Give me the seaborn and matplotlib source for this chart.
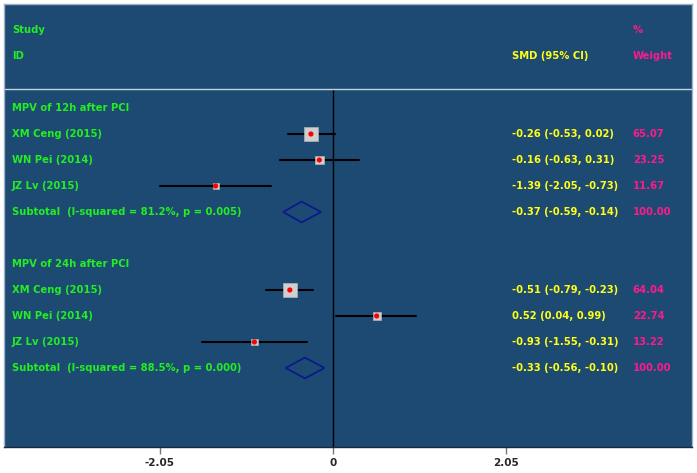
import numpy as np
import pandas as pd
import matplotlib.pyplot as plt
import matplotlib.transforms as mtransforms
from matplotlib.patches import Polygon
import seaborn as sns

# Study data
groups = ['MPV of 12h after PCI', 'MPV of 24h after PCI']
studies = ['XM Ceng (2015)', 'WN Pei (2014)', 'JZ Lv (2015)']
smd_12h = [-0.26, -0.16, -1.39]
lo_12h = [-0.53, -0.63, -2.05]
hi_12h = [0.02, 0.31, -0.73]
wt_12h = [65.07, 23.25, 11.67]
smd_24h = [-0.51, 0.52, -0.93]
lo_24h = [-0.79, 0.04, -1.55]
hi_24h = [-0.23, 0.99, -0.31]
wt_24h = [64.04, 22.74, 13.22]
sub_smd = [-0.37, -0.33]
sub_lo = [-0.59, -0.56]
sub_hi = [-0.14, -0.10]
sub_label = ['Subtotal  (I-squared = 81.2%, p = 0.005)',
             'Subtotal  (I-squared = 88.5%, p = 0.000)']
xticks = [-2.05, 0, 2.05]

sns.set_style('white')
plt.rcParams['font.family'] = ['DejaVu Sans']

BG = '#1d4a72'
GREEN = '#22ee22'
YELLOW = '#ffff1a'
PINK = '#ff1a8c'

rows = []
for g, (smd, lo, hi, wt) in enumerate([(smd_12h, lo_12h, hi_12h, wt_12h),
                                        (smd_24h, lo_24h, hi_24h, wt_24h)]):
    start = 5 + g * 6
    for i in range(3):
        rows.append(dict(study=studies[i], row=start + i, smd=smd[i],
                         lo=lo[i], hi=hi[i], wt=wt[i]))
df = pd.DataFrame(rows)

fig = plt.figure(figsize=(6.97, 4.73), dpi=100)
ax = fig.add_axes([4 / 697, 1 - 447 / 473, 688 / 697, 443 / 473])
ax.set_facecolor(BG)
ax.set_xlim(-3.90, 4.26)
ax.set_ylim(17.04, 0)

# header separator and null line
ax.axhline(3.27, color='#c8d2dc', lw=1.0)
ax.plot([0, 0], [3.27, 17.04], color='black', lw=1, zorder=1)

# confidence intervals
for _, r in df.iterrows():
    ax.plot([r['lo'], r['hi']], [r['row'], r['row']], color='black', lw=1.5, zorder=2)

# weight squares
df['size'] = (14 * np.sqrt(df['wt'] / 65.07) * 0.72) ** 2
ax.scatter(df['smd'], df['row'], s=df['size'], marker='s', color='#cfcfcf',
           edgecolor='#b0b0b0', linewidth=0.5, zorder=3)
sns.scatterplot(data=df, x='smd', y='row', color='#ff0000', s=14,
                edgecolor='none', ax=ax, zorder=4, legend=False)

# subtotal diamonds
for g in range(2):
    y = 8 + g * 6
    diamond = Polygon([[sub_lo[g], y], [sub_smd[g], y - 0.4],
                       [sub_hi[g], y], [sub_smd[g], y + 0.4]],
                      closed=True, fill=False, edgecolor='#0a1a8a', lw=1.3, zorder=3)
    ax.add_patch(diamond)

# text columns
tr = mtransforms.blended_transform_factory(ax.transAxes, ax.transData)
fs = 7.2
xl, xs, xw = 0.0116, 0.738, 0.914
ax.text(xl, 1, 'Study', color=GREEN, fontsize=fs, fontweight='bold', va='center', transform=tr)
ax.text(xl, 2, 'ID', color=GREEN, fontsize=fs, fontweight='bold', va='center', transform=tr)
ax.text(xs, 2, 'SMD (95% CI)', color=YELLOW, fontsize=fs, fontweight='bold', va='center', transform=tr)
ax.text(xw, 1, '%', color=PINK, fontsize=fs, fontweight='bold', va='center', transform=tr)
ax.text(xw, 2, 'Weight', color=PINK, fontsize=fs, fontweight='bold', va='center', transform=tr)

for g in range(2):
    ax.text(xl, 4 + g * 6, groups[g], color=GREEN, fontsize=fs, fontweight='bold',
            va='center', transform=tr)
    y = 8 + g * 6
    ax.text(xl, y, sub_label[g], color=GREEN, fontsize=fs, fontweight='bold',
            va='center', transform=tr)
    ax.text(xs, y, f'{sub_smd[g]:.2f} ({sub_lo[g]:.2f}, {sub_hi[g]:.2f})', color=YELLOW,
            fontsize=fs, fontweight='bold', va='center', transform=tr)
    ax.text(xw, y, '100.00', color=PINK, fontsize=fs, fontweight='bold', va='center', transform=tr)

for _, r in df.iterrows():
    ax.text(xl, r['row'], r['study'], color=GREEN, fontsize=fs, fontweight='bold',
            va='center', transform=tr)
    ax.text(xs, r['row'], f"{r['smd']:.2f} ({r['lo']:.2f}, {r['hi']:.2f})", color=YELLOW,
            fontsize=fs, fontweight='bold', va='center', transform=tr)
    ax.text(xw, r['row'], f"{r['wt']:.2f}", color=PINK, fontsize=fs, fontweight='bold',
            va='center', transform=tr)

# axes styling
ax.set_xticks(xticks)
ax.set_xticklabels(['-2.05', '0', '2.05'], fontsize=7.5, fontweight='bold')
ax.tick_params(axis='x', length=5, width=1, color='#777777', pad=3, bottom=True)
ax.set_yticks([])
ax.set_xlabel('')
ax.set_ylabel('')
for side in ['top', 'left', 'right']:
    ax.spines[side].set_color('#9fb2c6')
    ax.spines[side].set_linewidth(1)
ax.spines['bottom'].set_color('#1a2a3a')
ax.spines['bottom'].set_linewidth(1)

fig.savefig('out.png', dpi=100, facecolor='white')
